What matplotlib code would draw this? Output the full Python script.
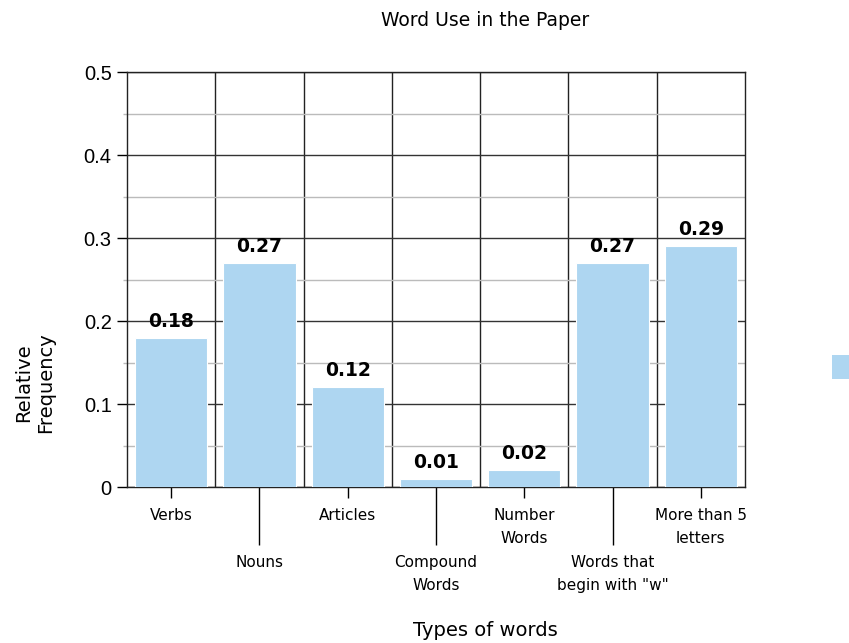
import matplotlib
matplotlib.use("Agg")
import matplotlib.pyplot as plt
from matplotlib.patches import Rectangle
from matplotlib.ticker import FixedLocator, FuncFormatter

categories = ["Verbs", "Nouns", "Articles", "Compound\nWords", "Number\nWords",
              "Words that\nbegin with \"w\"", "More than 5\nletters"]
frequencies = [0.18, 0.27, 0.12, 0.01, 0.02, 0.27, 0.29]
value_labels = ["0.18", "0.27", "0.12", "0.01", "0.02", "0.27", "0.29"]

bar_color = "#aed6f1"
label_font = ["DejaVu Sans"]

fig = plt.figure(figsize=(8.49, 6.43), dpi=100)
ax = fig.add_axes([0.1496, 0.2426, 0.7279, 0.6454])

x = list(range(len(categories)))
ax.bar(x, frequencies, width=0.82, color=bar_color, edgecolor="white",
       linewidth=0.8, zorder=3)

for xi, v, txt in zip(x, frequencies, value_labels):
    ax.annotate(txt, (xi, v), xytext=(0, 5), textcoords="offset points",
                ha="center", va="bottom", fontsize=13.5, fontweight="bold",
                family=label_font, zorder=4)

ax.set_xlim(-0.5, len(categories) - 0.5)
ax.set_ylim(0, 0.5)

# horizontal grid: dark at 0.1 steps, light at the half steps
ax.yaxis.set_major_locator(FixedLocator([0, 0.1, 0.2, 0.3, 0.4, 0.5]))
ax.yaxis.set_minor_locator(FixedLocator([0.05, 0.15, 0.25, 0.35, 0.45]))
ax.yaxis.set_major_formatter(FuncFormatter(lambda v, p: "0" if v == 0 else f"{v:.1f}"))
ax.grid(axis="y", which="major", color="#333333", linewidth=1.0, zorder=0)
ax.grid(axis="y", which="minor", color="#bbbbbb", linewidth=1.0, zorder=0)
ax.tick_params(axis="y", which="major", length=7, width=1, labelsize=14.5,
               labelfontfamily="Liberation Sans", pad=4)
ax.tick_params(axis="y", which="minor", length=3, width=1, color="#bbbbbb")

# vertical separators between categories
for k in range(len(categories) - 1):
    ax.axvline(k + 0.5, color="#222222", linewidth=1.0, zorder=1)

# staggered category labels: short ticks on even positions, long ticks on odd
even = [i for i in x if i % 2 == 0]
odd = [i for i in x if i % 2 == 1]
ax.set_xticks(even)
ax.set_xticklabels([categories[i] for i in even])
ax.set_xticks(odd, minor=True)
ax.set_xticklabels([categories[i] for i in odd], minor=True)
ax.tick_params(axis="x", which="major", length=8, width=1, pad=7, labelsize=11)
ax.tick_params(axis="x", which="minor", length=42, width=1, pad=7, labelsize=11)
for lab in ax.get_xticklabels(which="both"):
    lab.set_family(label_font)
    lab.set_linespacing(1.7)
    lab.set_va("top")

for s in ax.spines.values():
    s.set_color("#222222")
    s.set_linewidth(1.0)

fig.text(485 / 849, 1 - 21 / 643, "Word Use in the Paper", ha="center", va="center",
         fontsize=13.5, family=label_font)
fig.text(485 / 849, 1 - 630 / 643, "Types of words", ha="center", va="center",
         fontsize=14, family=label_font)
fig.text(35 / 849, 1 - 383 / 643, "Relative\nFrequency", ha="center", va="center",
         rotation=90, fontsize=14, family=label_font, linespacing=1.2)

# legend swatch at the right edge
fig.patches.append(Rectangle((832 / 849, 1 - 379 / 643), 20 / 849, 24 / 643,
                             transform=fig.transFigure, facecolor=bar_color,
                             edgecolor="none"))

fig.savefig("out.png", dpi=100)
